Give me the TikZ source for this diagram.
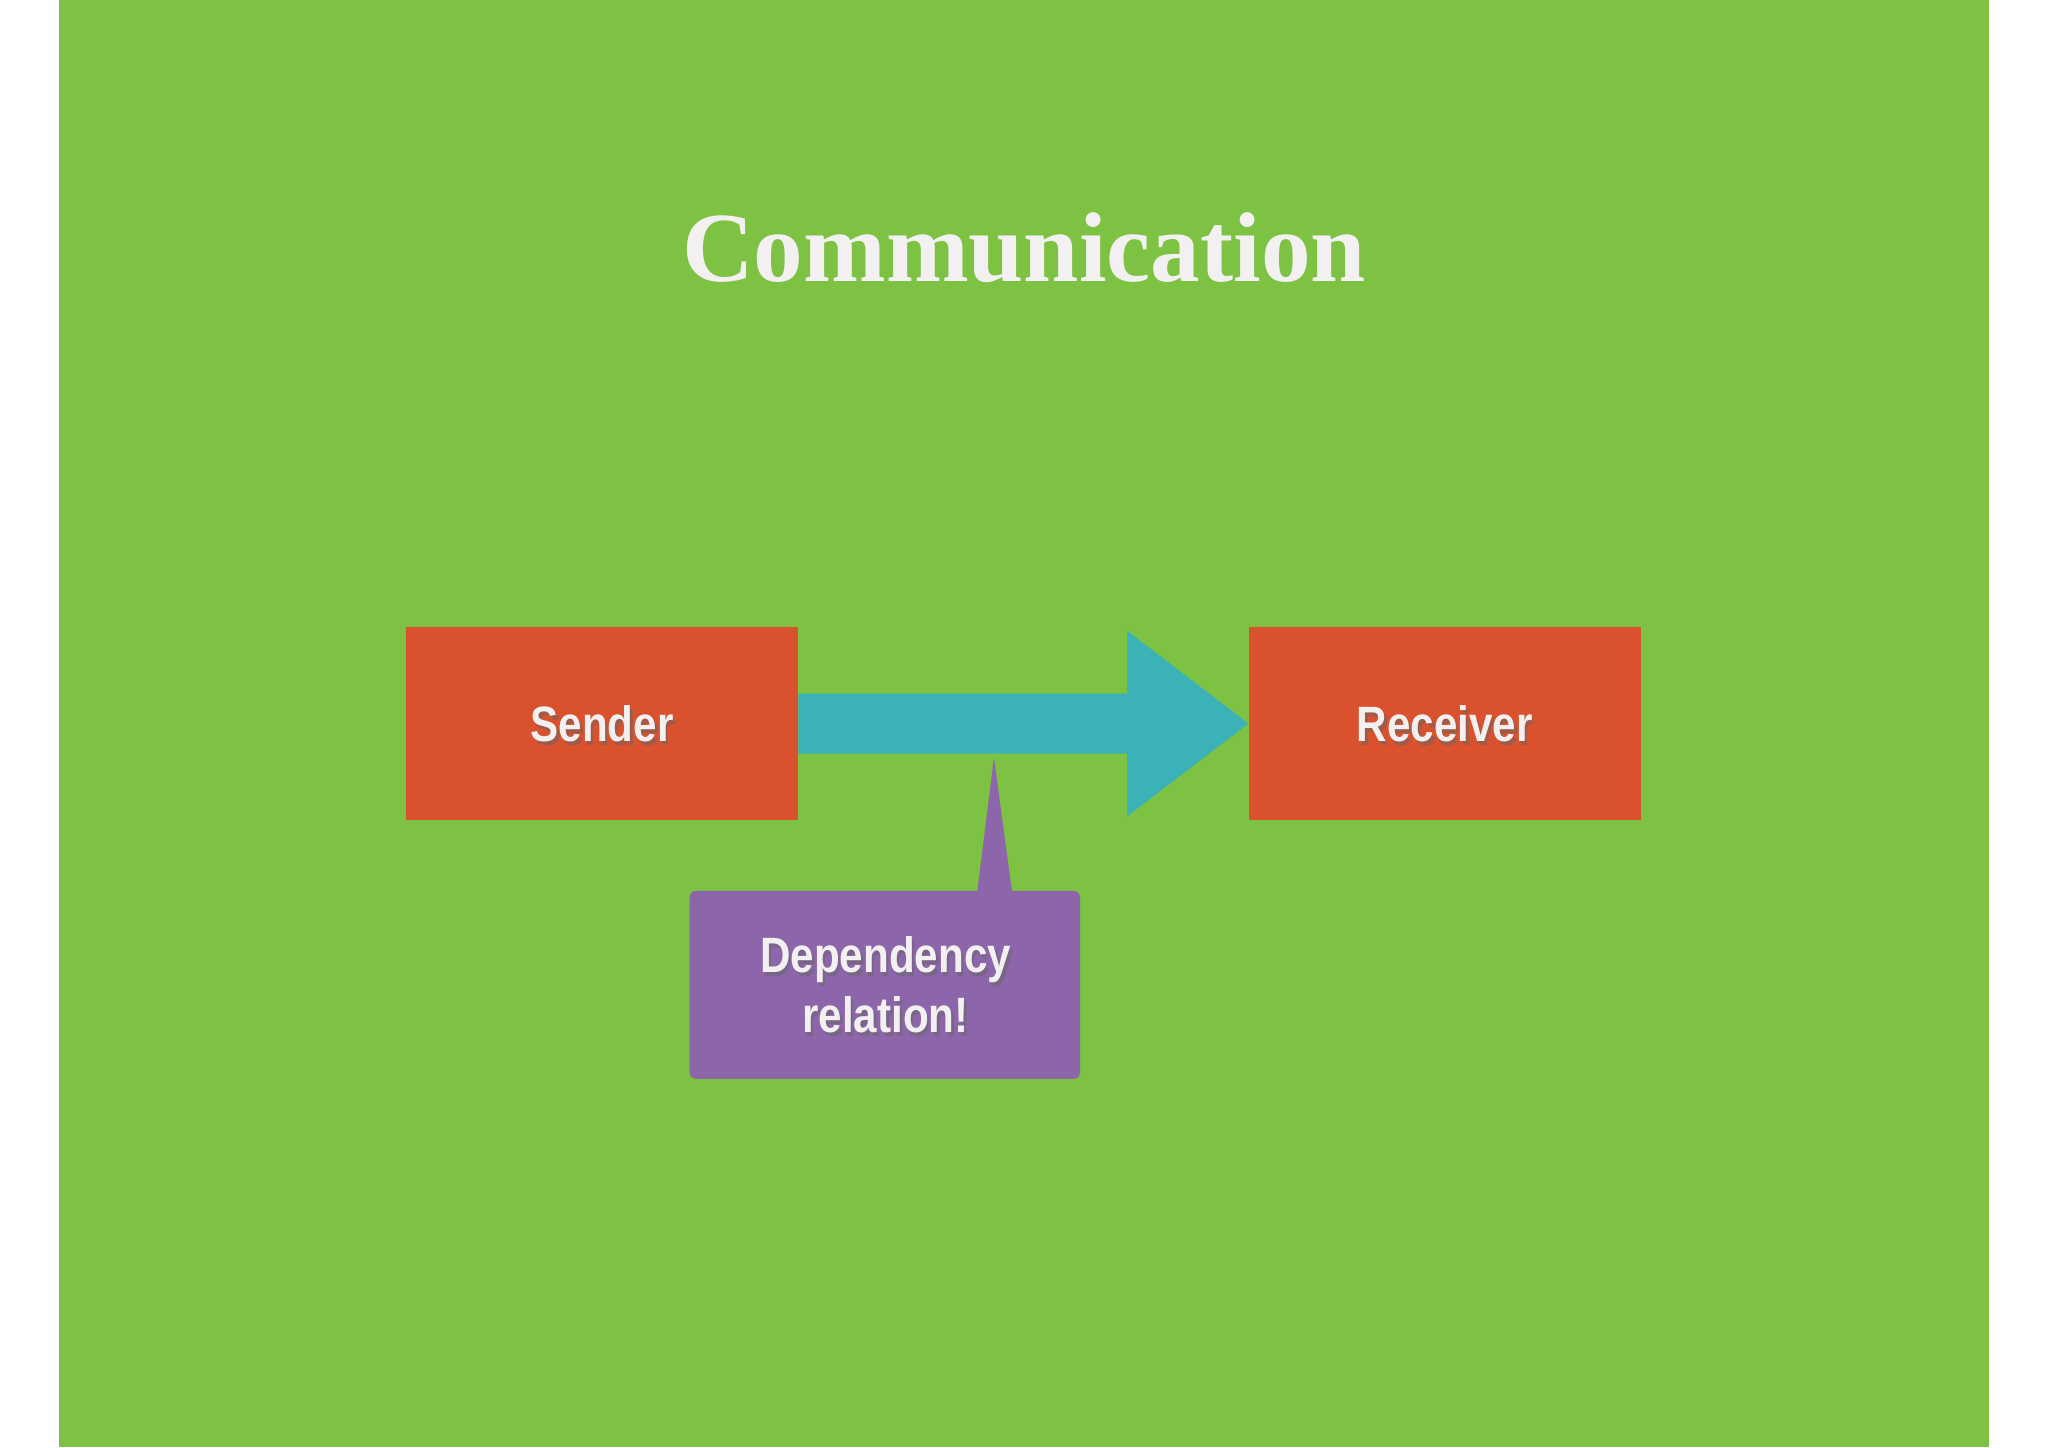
\documentclass[tikz,border=0pt]{standalone}
\usepackage{fontspec}
\setmainfont{Liberation Serif}
\setsansfont{Liberation Sans}
\definecolor{bg}{HTML}{7EC244}
\definecolor{boxred}{HTML}{D9512D}
\definecolor{teal}{HTML}{3BB2B7}
\definecolor{purp}{HTML}{8D65AB}
\definecolor{txt}{HTML}{F2F0F0}
\tikzset{
  box/.style={fill=boxred,draw=none,minimum width=300pt,minimum height=148pt,inner sep=0pt},
  lbl/.style={font=\sffamily\bfseries\fontsize{38}{46}\selectfont,text=txt,xscale=0.85,align=center}
}
\begin{document}
\begin{tikzpicture}[x=1pt,y=-1pt]
\useasboundingbox (0,0) rectangle (1568,1108);
\fill[white] (0,0) rectangle (1568,1108);
\fill[bg] (45,0) rectangle (1523,1108);
\node[font=\bfseries\fontsize{76}{80}\selectfont,text=txt] (title) at (784,190) {Communication};
\node[box] (sender) at (461,554) {};
\node[box] (receiver) at (1106,554) {};
\fill[teal] (sender.east |- 0,531) -- (863,531) -- (863,483) -- (receiver.west) -- (863,625) -- (863,577) -- (sender.east |- 0,577) -- cycle;
\coordinate (tip) at (761,580);
\fill[purp,rounded corners=5pt] (528,682) rectangle (827,826);
\fill[purp] (748,684) -- (tip) -- (775,684) -- cycle;
\node (callout) at (677.5,754) {};
\node[lbl,text=black!60,opacity=0.5] at (463,557) {Sender};
\node[lbl] (s) at (461,554) {Sender};
\node[lbl,text=black!60,opacity=0.5] at (1108,557) {Receiver};
\node[lbl] (r) at (1106,554) {Receiver};
\node[lbl,text=black!60,opacity=0.5] at (680,757) {Dependency\\relation!};
\node[lbl] (d) at (678,754) {Dependency\\relation!};
\end{tikzpicture}
\end{document}
